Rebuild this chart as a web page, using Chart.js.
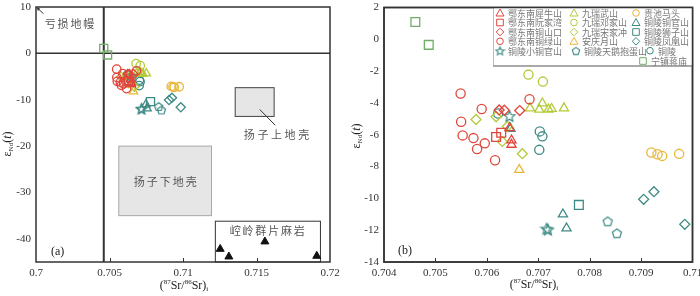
<!DOCTYPE html>
<html lang="zh">
<head>
<meta charset="UTF-8" />
<title>εNd(t) — (87Sr/86Sr)i</title>
<script src="https://cdn.jsdelivr.net/npm/chart.js@4"></script>
<style>
  html, body { margin: 0; padding: 0; background: #fff; }
  #wrapA { position: absolute; left: 0; top: 0; width: 345px; height: 296px; }
  #wrapB { position: absolute; left: 350px; top: 0; width: 350px; height: 296px; }
</style>
</head>
<body>
<div id="wrapA"><canvas id="chartA"></canvas></div>
<div id="wrapB"><canvas id="chartB"></canvas></div>

<script>
// ---- data: [87Sr/86Sr(i), εNd(t)] ----
const eXiniushan = [[0.70644, -5.58], [0.70648, -6.35], [0.70648, -6.62]];
const eRuanjiawan = [[0.70618, -6.14], [0.70628, -5.87]];
const eTongshankou = [[0.70624, -4.44], [0.70634, -4.46], [0.70664, -4.48]];
const eTonglvshan = [[0.70549, -3.41], [0.70590, -4.38], [0.70550, -5.18], [0.70553, -6.04], [0.70574, -6.21],
                     [0.70596, -6.54], [0.70581, -6.90], [0.70616, -7.60], [0.70683, -3.77]];
const tlXiaotongguan = [[0.70644, -4.82], [0.70719, -11.96], [0.70716, -11.90]];
const jrWushan = [[0.70684, -4.33], [0.70708, -4.02], [0.70702, -4.41], [0.70720, -4.41], [0.70726, -4.37], [0.70750, -4.33]];
const jrDengjiashan = [[0.70681, -2.22], [0.70709, -2.66]];
const jrSongjiachong = [[0.70579, -5.04], [0.70618, -4.87], [0.70640, -5.48], [0.70630, -6.42], [0.70669, -7.19]];
const aqYueshan = [[0.70663, -8.20]];
const tlTianebaodan = [[0.70835, -11.44], [0.70853, -12.19]];
const gcMatou = [[0.70920, -7.12], [0.70932, -7.23], [0.70941, -7.33], [0.70974, -7.20]];
const tlTongguanshan = [[0.70748, -11.00], [0.70755, -11.88], [0.70646, -5.62]];
const tlShizishan = [[0.70779, -10.41]];
const tlFenghuangshan = [[0.70925, -9.58], [0.70905, -10.06], [0.70985, -11.63]];
const tongling = [[0.70622, -4.66], [0.70703, -5.79], [0.70708, -6.10], [0.70702, -6.95]];
const nzJiangmiao = [[0.70461, 1.09], [0.70487, -0.35]];

const seriesNames = ['鄂东南犀牛山', '鄂东南阮家湾', '鄂东南铜山口', '鄂东南铜绿山', '铜陵小铜官山',
                     '九瑞武山', '九瑞邓家山', '九瑞宋家冲', '安庆月山', '铜陵天鹅抱蛋山',
                     '贵池马头', '铜陵铜官山', '铜陵狮子山', '铜陵凤凰山', '铜陵', '宁镇蒋庙'];
const seriesValues = [eXiniushan, eRuanjiawan, eTongshankou, eTonglvshan, tlXiaotongguan,
                      jrWushan, jrDengjiashan, jrSongjiachong, aqYueshan, tlTianebaodan,
                      gcMatou, tlTongguanshan, tlShizishan, tlFenghuangshan, tongling, nzJiangmiao];

// 崆岭群片麻岩 (black triangles, panel a)
const konglingX = [0.71253, 0.71312, 0.71557, 0.71910];
const konglingY = [-42.2, -43.85, -40.6, -43.7];

// reference fields in panel a
const upperCrustX = [0.71355, 0.71620], upperCrustY = [-13.6, -7.4];
const lowerCrustX = [0.70563, 0.71194], lowerCrustY = [-35.0, -20.0];
const konglingBoxX = [0.71220, 0.71935], konglingBoxY = [-45, -36.2];
const mantleSr = 0.70461;

const xTicksA = [0.7, 0.705, 0.71, 0.715, 0.72];
const yTicksA = [10, 0, -10, -20, -30, -40];
const xTicksB = [0.704, 0.705, 0.706, 0.707, 0.708, 0.709, 0.71];
const yTicksB = [2, 0, -2, -4, -6, -8, -10, -12, -14];

// ---- styles ----
const RED = '#e0463c', YG = '#b5ca3a', YEL = '#e9b73a', TEAL = '#3e8b85', GREEN = '#70ad66';
const shapeOf = ['triangle', 'rect', 'rectRot', 'circle', 'star', 'triangle', 'circle', 'rectRot', 'triangle', 'pentagon',
                 'circle', 'triangle', 'rect', 'rectRot', 'circle', 'rect'];
const colourOf = [RED, RED, RED, RED, TEAL, YG, YG, YG, YEL, TEAL, YEL, TEAL, TEAL, TEAL, TEAL, GREEN];
const sizeOf = { triangle: 5.3, rect: 6.2, rectRot: 5, circle: 4.6 };

Chart.defaults.font.family = '"Liberation Serif", "DejaVu Serif", serif';
Chart.defaults.color = '#333';

function shapeCanvas(kind, colour, size, lw) {
  const c = document.createElement('canvas');
  c.width = size; c.height = size;
  const g = c.getContext('2d');
  const r = size / 2 - lw;
  const cx = size / 2, cy = size / 2 + (kind === 'star' ? 0.6 : 0.5);
  g.strokeStyle = colour; g.lineWidth = lw; g.lineJoin = 'miter';
  g.beginPath();
  const n = kind === 'star' ? 10 : 5;
  for (let i = 0; i < n; i++) {
    const a = -Math.PI / 2 + i * 2 * Math.PI / n;
    const rr = kind === 'star' && i % 2 ? r * 0.45 : r;
    const px = cx + rr * Math.cos(a), py = cy + rr * Math.sin(a);
    i ? g.lineTo(px, py) : g.moveTo(px, py);
  }
  g.closePath();
  g.stroke();
  return c;
}

function styleFor(i, scale) {
  const s = shapeOf[i];
  if (s === 'star') return { style: shapeCanvas('star', colourOf[i], Math.round(14 * scale), 1.2), r: 5 };
  if (s === 'pentagon') return { style: shapeCanvas('pentagon', colourOf[i], Math.round(12 * scale), 1.2), r: 5 };
  return { style: s, r: sizeOf[s] * scale };
}

function makeDatasets(scale) {
  return seriesValues.map((vals, i) => {
    const st = styleFor(i, scale);
    return {
      label: seriesNames[i],
      data: vals.map(([x, y]) => ({ x, y })),
      pointStyle: st.style,
      pointRadius: st.r,
      borderColor: colourOf[i],
      backgroundColor: 'rgba(0,0,0,0)',
      pointBorderWidth: 1.3,
      showLine: false
    };
  });
}

// ---- text helpers ----
function richText(ctx, parts, x, y, size, rotate) {
  ctx.save();
  ctx.translate(x, y);
  if (rotate) ctx.rotate(-Math.PI / 2);
  const fontOf = p => `${p.it ? 'italic ' : ''}${p.sup || p.sub ? Math.round(size * 0.6) : size}px "Liberation Serif"`;
  let total = 0;
  parts.forEach(p => { ctx.font = fontOf(p); p.w = ctx.measureText(p.t).width; total += p.w; });
  let cx = -total / 2;
  ctx.textAlign = 'left'; ctx.textBaseline = 'middle'; ctx.fillStyle = '#222';
  parts.forEach(p => {
    ctx.font = fontOf(p);
    const dy = p.sup ? -size * 0.33 : p.sub ? size * 0.3 : 0;
    ctx.fillText(p.t, cx, dy);
    cx += p.w;
  });
  ctx.restore();
}
const srTitle = () => [{ t: '(' }, { t: '87', sup: 1 }, { t: 'Sr/' }, { t: '86', sup: 1 }, { t: 'Sr)' }, { t: 'i', sub: 1 }];
const ndTitle = () => [{ t: 'ε' }, { t: 'Nd', sub: 1 }, { t: '(' }, { t: 't', it: 1 }, { t: ')' }];

function spaced(ctx, str, cx, cy, size, pitch, colour) {
  ctx.save();
  ctx.font = `${size}px "Noto Sans CJK SC"`;
  ctx.fillStyle = colour; ctx.textAlign = 'center'; ctx.textBaseline = 'middle';
  const chars = [...str];
  const x0 = cx - (chars.length - 1) * pitch / 2;
  chars.forEach((ch, i) => ctx.fillText(ch, x0 + i * pitch, cy));
  ctx.restore();
}

function frame(chart, xTicks) {
  const { ctx, chartArea: a, scales } = chart;
  ctx.save();
  ctx.strokeStyle = '#333'; ctx.lineWidth = 1.5;
  ctx.strokeRect(a.left, a.top, a.right - a.left, a.bottom - a.top);
  ctx.lineWidth = 1;
  ctx.beginPath();
  xTicks.slice(1, -1).forEach(v => {
    const px = Math.round(scales.x.getPixelForValue(v)) + 0.5;
    ctx.moveTo(px, a.bottom); ctx.lineTo(px, a.bottom - 4);
  });
  ctx.stroke();
  ctx.restore();
}

function axes(xTicks, yTicks, xMin, xMax, yMin, yMax, yWidth) {
  return {
    x: {
      type: 'linear', min: xMin, max: xMax,
      afterBuildTicks: s => { s.ticks = xTicks.map(v => ({ value: v })); },
      afterFit: s => { s.height = 34; s.paddingLeft = 0; s.paddingRight = 0; },
      grid: { display: false, drawTicks: false },
      border: { display: false },
      ticks: { padding: 5, maxRotation: 0, autoSkip: false, font: { size: 11 }, callback: v => String(v) }
    },
    y: {
      type: 'linear', min: yMin, max: yMax,
      afterBuildTicks: s => { s.ticks = yTicks.map(v => ({ value: v })); },
      afterFit: s => { s.width = yWidth; s.paddingTop = 0; s.paddingBottom = 0; },
      grid: { display: false, drawTicks: false },
      border: { display: false },
      ticks: { padding: 5, autoSkip: false, font: { size: 11 }, callback: v => String(v) }
    }
  };
}

// ---- panel (a) ----
const panelA = {
  id: 'panelA',
  beforeDatasetsDraw(chart) {
    const { ctx, scales: { x, y }, chartArea: a } = chart;
    ctx.save();
    // 扬子下地壳
    ctx.fillStyle = '#e6e6e6'; ctx.strokeStyle = '#a8a8a8'; ctx.lineWidth = 1;
    let x0 = x.getPixelForValue(lowerCrustX[0]), x1 = x.getPixelForValue(lowerCrustX[1]);
    let y0 = y.getPixelForValue(lowerCrustY[1]), y1 = y.getPixelForValue(lowerCrustY[0]);
    ctx.fillRect(x0, y0, x1 - x0, y1 - y0); ctx.strokeRect(x0, y0, x1 - x0, y1 - y0);
    // 扬子上地壳
    ctx.strokeStyle = '#444';
    x0 = x.getPixelForValue(upperCrustX[0]); x1 = x.getPixelForValue(upperCrustX[1]);
    y0 = y.getPixelForValue(upperCrustY[1]); y1 = y.getPixelForValue(upperCrustY[0]);
    ctx.fillRect(x0, y0, x1 - x0, y1 - y0); ctx.strokeRect(x0, y0, x1 - x0, y1 - y0);
    // 崆岭群 box
    ctx.strokeStyle = '#333';
    x0 = x.getPixelForValue(konglingBoxX[0]); x1 = x.getPixelForValue(konglingBoxX[1]);
    y0 = y.getPixelForValue(konglingBoxY[1]); y1 = y.getPixelForValue(konglingBoxY[0]);
    ctx.strokeRect(x0, y0, x1 - x0, y1 - y0);
    // depleted mantle reference lines
    ctx.strokeStyle = '#333'; ctx.lineWidth = 2;
    ctx.beginPath();
    const mx = x.getPixelForValue(mantleSr);
    ctx.moveTo(mx, a.top); ctx.lineTo(mx, a.bottom);
    ctx.stroke();
    ctx.lineWidth = 1.5;
    ctx.beginPath();
    const zy = y.getPixelForValue(0);
    ctx.moveTo(a.left, zy); ctx.lineTo(a.right, zy);
    ctx.stroke();
    // leader for 扬子上地壳
    ctx.lineWidth = 1; ctx.strokeStyle = '#333';
    ctx.beginPath();
    ctx.moveTo(x.getPixelForValue(0.71522), y.getPixelForValue(-12.1));
    ctx.lineTo(x.getPixelForValue(0.71627), y.getPixelForValue(-15.5));
    ctx.stroke();
    // arrow for 亏损地幔
    const ax = x.getPixelForValue(0.70007), ay = y.getPixelForValue(9.83);
    const bx = x.getPixelForValue(0.70051), by = y.getPixelForValue(8.55);
    ctx.beginPath(); ctx.moveTo(ax, ay); ctx.lineTo(bx, by); ctx.stroke();
    ctx.fillStyle = '#333';
    ctx.beginPath(); ctx.moveTo(ax, ay); ctx.lineTo(ax + 3.2, ay + 0.8); ctx.lineTo(ax + 0.8, ay + 3.2); ctx.closePath(); ctx.fill();
    ctx.restore();
  },
  afterDatasetsDraw(chart) {
    const { ctx, scales: { x, y }, chartArea: a } = chart;
    frame(chart, xTicksA);
    spaced(ctx, '亏损地幔', x.getPixelForValue(0.70228), y.getPixelForValue(6.3), 11, 12.8, '#555');
    spaced(ctx, '扬子上地壳', x.getPixelForValue(0.71636), y.getPixelForValue(-17.6), 11, 13.6, '#555');
    spaced(ctx, '扬子下地壳', x.getPixelForValue(0.7088), y.getPixelForValue(-27.6), 11, 13, '#555');
    spaced(ctx, '崆岭群片麻岩', x.getPixelForValue(0.71573), y.getPixelForValue(-38.3), 11, 12.8, '#555');
    ctx.save();
    ctx.font = '12px "Liberation Serif"'; ctx.fillStyle = '#222'; ctx.textBaseline = 'middle'; ctx.textAlign = 'left';
    ctx.fillText('(a)', a.left + 15, a.bottom - 10);
    ctx.restore();
    richText(ctx, srTitle(), 184, 286, 12, false);
    richText(ctx, ndTitle(), 8, 144, 12, true);
  }
};

const dataA = makeDatasets(0.92);
dataA.push({
  label: '崆岭群片麻岩',
  data: konglingX.map((v, i) => ({ x: v, y: konglingY[i] })),
  pointStyle: 'triangle', pointRadius: 4.6,
  borderColor: '#111', backgroundColor: '#111', pointBorderWidth: 1, showLine: false
});

new Chart(document.getElementById('chartA'), {
  type: 'scatter',
  data: { datasets: dataA },
  options: {
    responsive: true, maintainAspectRatio: false, animation: false, events: [],
    layout: { padding: { top: 5, right: 15, bottom: 0, left: 0 } },
    scales: axes(xTicksA, yTicksA, 0.7, 0.72, -45, 10, 36),
    plugins: { legend: { display: false }, tooltip: { enabled: false } }
  },
  plugins: [panelA]
});

// ---- panel (b) ----
const legendSlots = [
  [150, 13], [150, 22.5], [150, 32], [150, 41.3], [150, 50.7],
  [224, 13], [224, 22.5], [224, 32], [224, 41.3], [226, 50.7],
  [286, 13], [286, 22.5], [286, 32], [286, 41.3], [300, 50.7], [293, 61]
];

function legendMarker(ctx, i, cx, cy) {
  const s = shapeOf[i];
  ctx.save();
  ctx.strokeStyle = colourOf[i]; ctx.lineWidth = 1;
  if (s === 'star' || s === 'pentagon') {
    const img = shapeCanvas(s, colourOf[i], s === 'star' ? 11 : 10, 1.1);
    ctx.drawImage(img, cx - img.width / 2, cy - img.height / 2);
    ctx.restore();
    return;
  }
  ctx.beginPath();
  if (s === 'circle') ctx.arc(cx, cy, 3.3, 0, Math.PI * 2);
  if (s === 'rect') ctx.rect(cx - 3.3, cy - 3.3, 6.6, 6.6);
  if (s === 'rectRot') { ctx.moveTo(cx, cy - 3.8); ctx.lineTo(cx + 3.8, cy); ctx.lineTo(cx, cy + 3.8); ctx.lineTo(cx - 3.8, cy); ctx.closePath(); }
  if (s === 'triangle') { ctx.moveTo(cx, cy - 4); ctx.lineTo(cx + 4, cy + 3); ctx.lineTo(cx - 4, cy + 3); ctx.closePath(); }
  ctx.stroke();
  ctx.restore();
}

const panelB = {
  id: 'panelB',
  afterDatasetsDraw(chart) {
    const { ctx, chartArea: a } = chart;
    frame(chart, xTicksB);
    // legend box
    ctx.save();
    const lx = 143, ly = a.top, lw = a.right - lx, lh = 66 - a.top;
    ctx.fillStyle = '#fff'; ctx.fillRect(lx, ly, lw, lh);
    ctx.strokeStyle = '#bbb'; ctx.lineWidth = 1; ctx.strokeRect(lx + 0.5, ly, lw, lh);
    ctx.strokeStyle = '#999'; ctx.lineWidth = 1.5;
    ctx.beginPath(); ctx.moveTo(lx, ly + lh); ctx.lineTo(a.right, ly + lh); ctx.stroke();
    ctx.strokeStyle = '#333'; ctx.lineWidth = 1.5;
    ctx.strokeRect(a.left, a.top, a.right - a.left, a.bottom - a.top);
    ctx.font = '9px "Noto Sans CJK SC"'; ctx.fillStyle = '#777';
    ctx.textAlign = 'left'; ctx.textBaseline = 'middle';
    seriesNames.forEach((name, i) => {
      const [mx, my] = legendSlots[i];
      legendMarker(ctx, i, mx, my);
      ctx.fillText(name, mx + 8, my + 0.5);
    });
    ctx.font = '12px "Liberation Serif"'; ctx.fillStyle = '#222';
    ctx.fillText('(b)', a.left + 14, a.bottom - 11);
    ctx.restore();
    richText(ctx, srTitle(), 184, 285, 12, false);
    richText(ctx, ndTitle(), 7, 136, 12, true);
  }
};

new Chart(document.getElementById('chartB'), {
  type: 'scatter',
  data: { datasets: makeDatasets(1) },
  options: {
    responsive: true, maintainAspectRatio: false, animation: false, events: [],
    layout: { padding: { top: 5, right: 6, bottom: 0, left: 0 } },
    scales: axes(xTicksB, yTicksB, 0.704, 0.71, -14, 2, 34),
    plugins: { legend: { display: false }, tooltip: { enabled: false } }
  },
  plugins: [panelB]
});
</script>
</body>
</html>
